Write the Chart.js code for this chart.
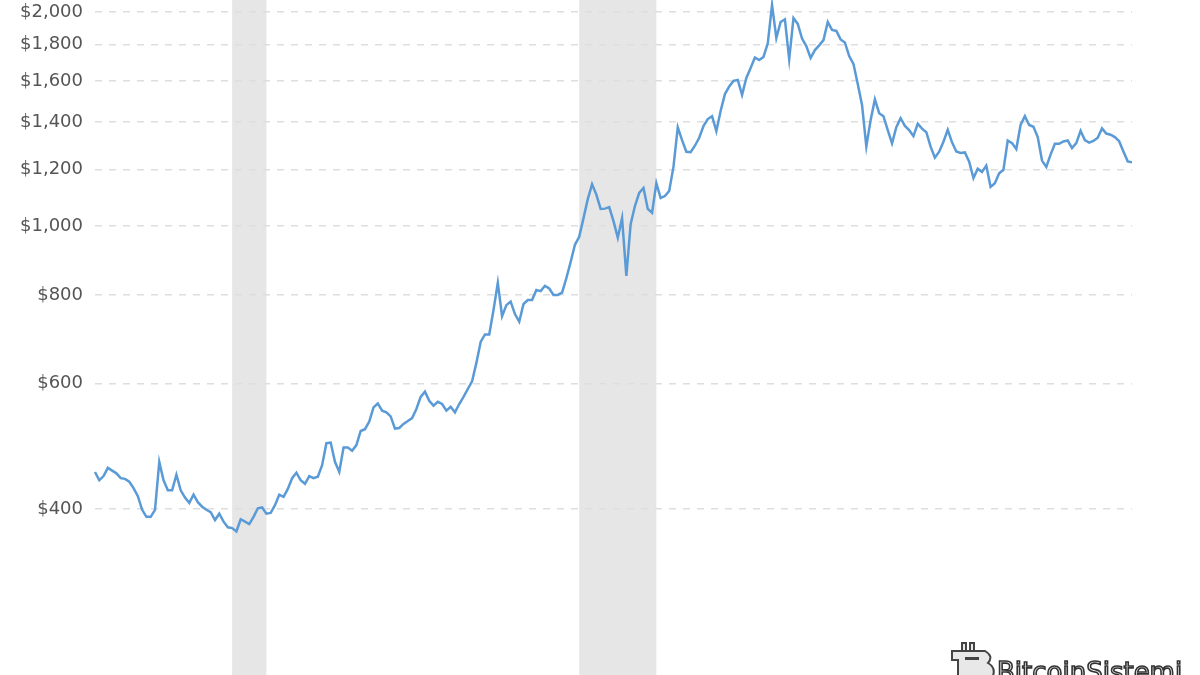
<!DOCTYPE html>
<html><head><meta charset="utf-8">
<script src="https://cdn.jsdelivr.net/npm/chart.js@4.4.1/dist/chart.umd.min.js"></script>
<style>html,body{margin:0;padding:0;background:#fff;overflow:hidden}canvas{display:block}</style>
</head><body>
<canvas id="c" width="1200" height="675"></canvas>
<script>
// Monthly gold price (inflation adjusted, USD), starting Jul 1998
const startYear = 1998, startMonth = 7;
const price1998_2001 = [451,439,445,457,453,449,442,441,437,428,417,399,390,390,399,466,439,425,425,447,425,415,408,419,409,403,399,396,386,394,384,377,376,372,387,384,381,390,401,402,394,395,405];
const price2002_2005 = [419,416,427,442,450,439,434,445,442,444,461,495,496,466,451,488,488,483,492,515,518,531,556,563,550,547,540,519,520,527,532,537,553,575,585,568,559,566,562,550,557,547];
const price2005_2009 = [562,575,590,605,642,687,704,704,762,832,747,774,783,752,734,777,787,787,813,810,824,817,800,800,806,845,890,941,966,1026,1091,1145,1107,1057,1058,1063,1016,963,1026,851,1006,1067,1113,1131,1057,1044,1149,1095,1102,1120];
const price2009_2015 = [1212,1377,1321,1272,1270,1297,1331,1382,1414,1427,1360,1451,1533,1571,1600,1605,1529,1615,1668,1726,1712,1729,1807,2046,1838,1936,1953,1716,1961,1924,1835,1791,1723,1768,1795,1826,1936,1887,1881,1830,1812,1734,1690,1584,1480,1294,1409,1507,1441,1427,1364,1307,1377,1418,1383,1364,1338,1393,1371,1355,1293,1248,1272,1314,1366,1311,1273,1267];
const price2015_2018 = [1269,1232,1168,1204,1191,1216,1135,1149,1186,1200,1319,1308,1283,1387,1427,1387,1379,1334,1236,1211,1260,1305,1305,1315,1319,1287,1308,1361,1321,1310,1317,1331,1372,1349,1344,1334,1316,1273,1233,1229];
const yTicks = [400,600,800,1000,1200,1400,1600,1800,2000];
const recessions = [['2001-03','2001-11'],['2007-12','2009-06']];
const yMin = 233.7, yMax = 2079;

const prices = [].concat(price1998_2001, price2002_2005, price2005_2009, price2009_2015, price2015_2018);
const months = prices.map((_, i) => {
  const m = startMonth - 1 + i;
  return (startYear + Math.floor(m / 12)) + '-' + String(m % 12 + 1).padStart(2, '0');
});

const bandPlugin = {
  id: 'bands',
  beforeDraw(chart) {
    const {ctx, chartArea: a, scales: {x}} = chart;
    ctx.save();
    ctx.fillStyle = '#e6e6e6';
    recessions.forEach(([s, e]) => {
      const x1 = x.getPixelForValue(months.indexOf(s));
      const x2 = x.getPixelForValue(months.indexOf(e));
      ctx.fillRect(x1, a.top, x2 - x1, a.bottom - a.top);
    });
    ctx.restore();
  }
};

const watermark = {
  id: 'watermark',
  afterDraw(chart) {
    const ctx = chart.ctx;
    ctx.save();
    // logo
    ctx.lineWidth = 2;
    ctx.strokeStyle = '#444';
    ctx.fillStyle = '#e8e8e8';
    ctx.beginPath();
    ctx.rect(962, 643, 4, 8); ctx.rect(970, 643, 4, 8);
    ctx.fill(); ctx.stroke();
    ctx.beginPath();
    ctx.moveTo(952, 651); ctx.lineTo(985, 651); ctx.quadraticCurveTo(994, 656, 988, 663);
    ctx.quadraticCurveTo(997, 668, 992, 678); ctx.lineTo(958, 678); ctx.lineTo(958, 660); ctx.lineTo(952, 660); ctx.closePath();
    ctx.fill(); ctx.stroke();
    ctx.fillStyle = '#444';
    ctx.fillRect(965, 657, 14, 3);
    // text
    ctx.font = '26px "DejaVu Sans"';
    ctx.textBaseline = 'alphabetic';
    ctx.fillStyle = '#eeeeee';
    ctx.strokeStyle = '#333';
    ctx.lineWidth = 1.6;
    ctx.fillText('BitcoinSistemi', 997, 681);
    ctx.strokeText('BitcoinSistemi', 997, 681);
    ctx.restore();
  }
};

new Chart(document.getElementById('c'), {
  type: 'line',
  data: {
    labels: months,
    datasets: [{
      data: prices,
      borderColor: '#5a9ad6',
      borderWidth: 2.5,
      pointRadius: 0,
      tension: 0,
      fill: false
    }]
  },
  options: {
    responsive: false,
    animation: false,
    devicePixelRatio: 1,
    layout: {padding: {left: 0, right: 68, top: 0, bottom: 0}},
    plugins: {legend: {display: false}, tooltip: {enabled: false}},
    scales: {
      x: {type: 'category', display: false, offset: false},
      y: {
        type: 'logarithmic', min: yMin, max: yMax, position: 'left',
        afterBuildTicks(s) { s.ticks = yTicks.map(v => ({value: v})); },
        afterFit(s) { s.width = 95; s.paddingTop = 0; s.paddingBottom = 0; },
        ticks: {
          autoSkip: false, padding: 12, color: '#555',
          font: {family: 'DejaVu Sans', size: 18},
          callback: v => '$' + Number(v).toLocaleString('en-US')
        },
        grid: {color: '#dedede', lineWidth: 1.5, drawTicks: false},
        border: {display: false, dash: [7, 7]}
      }
    }
  },
  plugins: [bandPlugin, watermark]
});
</script>
</body></html>
